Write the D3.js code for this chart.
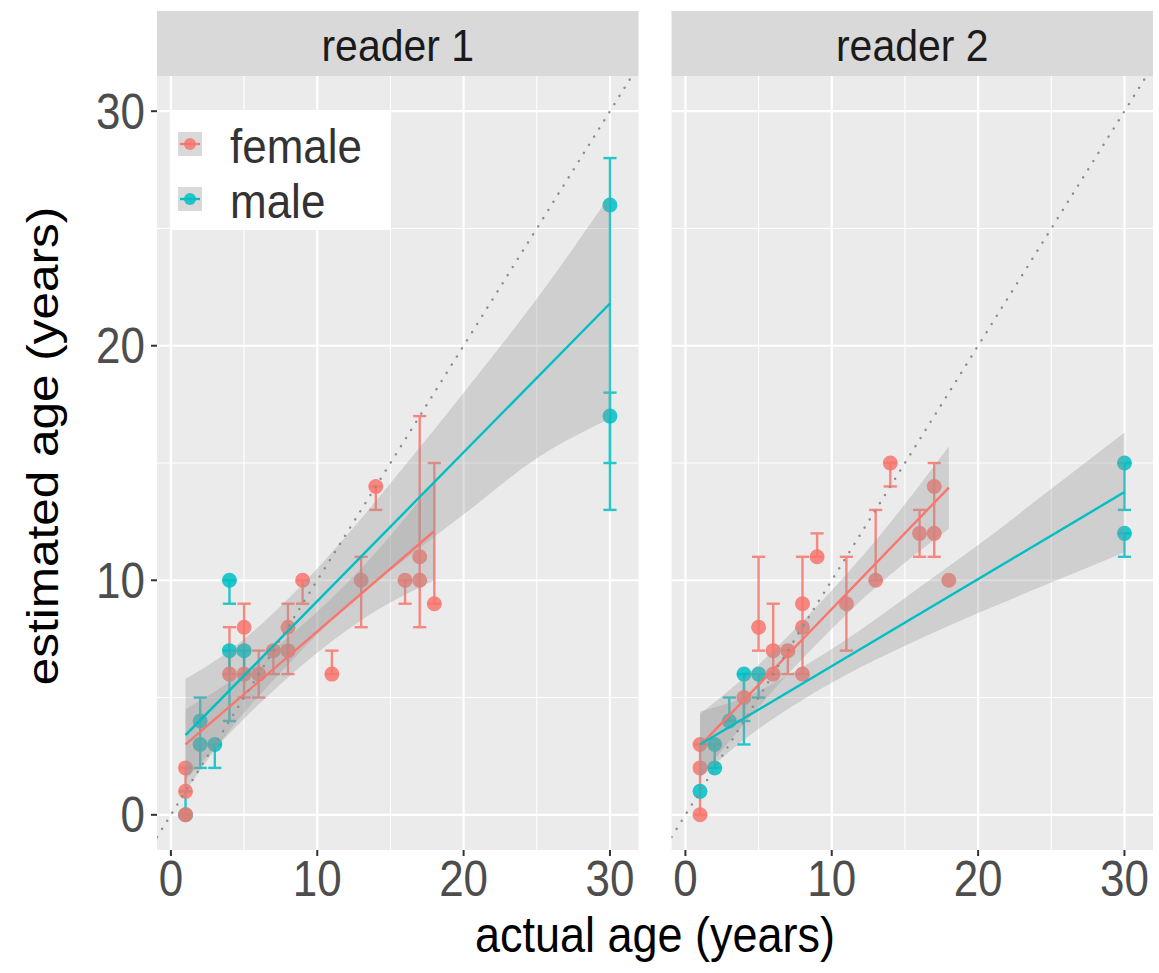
<!DOCTYPE html>
<html><head><meta charset="utf-8">
<script src="https://cdn.jsdelivr.net/npm/d3@7"></script>
<style>html,body{margin:0;padding:0;background:#fff;} svg{display:block;font-family:"Liberation Sans",Arial,Helvetica,sans-serif;}</style>
</head><body>
<svg id="chart" width="1159" height="973"></svg>
<script>
// ---------- data ----------
const panelNames = ["reader 1", "reader 2"];
const sexes = ["female", "male"];
const xTicks = [0, 10, 20, 30];
const yTicks = [0, 10, 20, 30];
const minorTicks = [5, 15, 25];

// points [actual, estimated]
const r1FemalePts = [[1,0],[1,1],[1,2],[4,6],[5,8],[5,6],[6,6],[7,7],[8,8],[8,7],[9,10],[11,6],[13,10],[14,14],[16,10],[17,10],[17,11],[18,9]];
const r1MalePts   = [[1,0],[2,4],[2,3],[3,3],[4,10],[4,7],[5,7],[30,26],[30,17]];
const r2FemalePts = [[1,3],[1,2],[1,0],[4,5],[5,8],[6,7],[6,6],[7,7],[8,9],[8,8],[8,6],[9,11],[11,9],[13,10],[14,15],[16,12],[17,14],[17,12],[18,10]];
const r2MalePts   = [[1,1],[2,3],[2,2],[3,4],[4,6],[5,6],[30,15],[30,12]];

// error bars [actual, low, high]
const r1FemaleBars = [[1,1,2],[4,6,8],[5,5,9],[6,5,7],[7,6,7],[8,6,9],[9,9,10],[11,6,7],[13,8,11],[14,13,14],[16,9,10],[17,8,17],[18,9,15]];
const r1MaleBars   = [[1,0,1],[2,2,5],[3,2,3],[4,9,10],[4,4,7],[5,6,7],[30,15,28],[30,13,18]];
const r2FemaleBars = [[1,0,3],[5,7,11],[6,6,9],[7,6,7],[8,6,11],[9,11,12],[11,7,11],[13,10,13],[14,14,15],[16,11,13],[17,11,15]];
const r2MaleBars   = [[2,2,3],[3,4,5],[4,3,6],[4,4,6],[5,5,6],[30,13,15],[30,11,12]];

// linear fit with confidence band [actual, fit, low, high]
const r1FemaleFit = [[1,3.0,1.5,4.5],[5,5.1,4.1,6.1],[9,7.3,6.4,8.1],[13,9.4,8.3,10.5],[18,12.1,10.0,14.2]];
const r1MaleFit   = [[1,3.4,1.0,5.8],[4,5.3,3.6,7.0],[8,7.8,6.4,9.2],[12,10.4,8.9,11.9],[16,12.9,10.9,14.9],[20,15.4,12.8,18.0],[25,18.6,15.2,22.0],[30,21.8,16.9,26.4]];
const r2FemaleFit = [[1,2.95,1.6,4.3],[5,5.5,4.6,6.4],[9,8.1,7.3,8.9],[13,10.7,9.7,11.7],[18,13.95,12.2,15.7]];
const r2MaleFit   = [[1,3.0,1.6,4.4],[4,4.1,3.2,5.0],[8,5.6,4.9,6.3],[12,7.1,6.3,7.9],[16,8.6,7.5,9.7],[20,10.05,8.6,11.5],[25,11.9,9.9,13.9],[30,13.76,11.2,16.3]];

const colors = {female: "#F8766D", male: "#00BFC4"};

const panelData = [
  {name: panelNames[0], female: {pts: r1FemalePts, bars: r1FemaleBars, fit: r1FemaleFit}, male: {pts: r1MalePts, bars: r1MaleBars, fit: r1MaleFit}},
  {name: panelNames[1], female: {pts: r2FemalePts, bars: r2FemaleBars, fit: r2FemaleFit}, male: {pts: r2MalePts, bars: r2MaleBars, fit: r2MaleFit}}
];

// ---------- layout ----------
const SY = 1.1;   // vertical text stretch of the original image
const SYT = 1.15; // tick labels
const panelsX = [[157, 638.5], [671.5, 1153]];
const pTop = 76, pBottom = 850, stripTop = 11;
const xDomain = [-0.95, 31.95], yDomain = [-1.5, 31.5];
const y = d3.scaleLinear().domain(yDomain).range([pBottom, pTop]);

const svg = d3.select("#chart");

panelData.forEach((pd, i) => {
  const [x0, x1] = panelsX[i];
  const x = d3.scaleLinear().domain(xDomain).range([x0, x1]);
  const g = svg.append("g");
  const clipId = "clip" + i;
  svg.append("clipPath").attr("id", clipId).append("rect")
    .attr("x", x0).attr("y", pTop).attr("width", x1 - x0).attr("height", pBottom - pTop);

  // strip
  g.append("rect").attr("x", x0).attr("y", stripTop).attr("width", x1 - x0).attr("height", pTop - stripTop).attr("fill", "#D9D9D9");
  g.append("text").attr("transform", `translate(${(x0 + x1) / 2},${(stripTop + pTop) / 2 + 2}) scale(1,${SY})`)
    .attr("text-anchor", "middle").attr("dominant-baseline", "central")
    .attr("font-size", 41).attr("fill", "#1A1A1A").text(pd.name);

  // panel bg
  g.append("rect").attr("x", x0).attr("y", pTop).attr("width", x1 - x0).attr("height", pBottom - pTop).attr("fill", "#EBEBEB");
  // grids
  g.selectAll(".vminor").data(minorTicks).join("line")
    .attr("x1", d => x(d)).attr("x2", d => x(d)).attr("y1", pTop).attr("y2", pBottom)
    .attr("stroke", "#fff").attr("stroke-width", 1.1);
  g.selectAll(".hminor").data(minorTicks).join("line")
    .attr("y1", d => y(d)).attr("y2", d => y(d)).attr("x1", x0).attr("x2", x1)
    .attr("stroke", "#fff").attr("stroke-width", 1.1);
  g.selectAll(".vmajor").data(xTicks).join("line")
    .attr("x1", d => x(d)).attr("x2", d => x(d)).attr("y1", pTop).attr("y2", pBottom)
    .attr("stroke", "#fff").attr("stroke-width", 2.2);
  g.selectAll(".hmajor").data(yTicks).join("line")
    .attr("y1", d => y(d)).attr("y2", d => y(d)).attr("x1", x0).attr("x2", x1)
    .attr("stroke", "#fff").attr("stroke-width", 2.2);

  const layer = g.append("g").attr("clip-path", `url(#${clipId})`);

  // error bars
  sexes.forEach(s => {
    const bars = pd[s].bars;
    const bg = layer.append("g").attr("stroke", colors[s]).attr("stroke-width", 2.4).attr("opacity", 0.85).attr("fill", "none");
    bars.forEach(b => {
      bg.append("line").attr("x1", x(b[0])).attr("x2", x(b[0])).attr("y1", y(b[1])).attr("y2", y(b[2]));
      bg.append("line").attr("x1", x(b[0] - 0.45)).attr("x2", x(b[0] + 0.45)).attr("y1", y(b[1])).attr("y2", y(b[1]));
      bg.append("line").attr("x1", x(b[0] - 0.45)).attr("x2", x(b[0] + 0.45)).attr("y1", y(b[2])).attr("y2", y(b[2]));
    });
  });
  // points (male first so female sits on top where they coincide)
  ["male", "female"].forEach(s => {
    layer.append("g").selectAll("circle").data(pd[s].pts).join("circle")
      .attr("cx", d => x(d[0])).attr("cy", d => y(d[1])).attr("r", 7.5)
      .attr("fill", colors[s]).attr("opacity", 0.85);
  });
  // ribbons
  sexes.forEach(s => {
    const area = d3.area().x(d => x(d[0])).y0(d => y(d[2])).y1(d => y(d[3])).curve(d3.curveMonotoneX);
    layer.append("path").datum(pd[s].fit).attr("d", area).attr("fill", "#999999").attr("opacity", 0.33);
  });
  // fit lines
  sexes.forEach(s => {
    const fit = pd[s].fit;
    const ln = d3.line().x(d => x(d[0])).y(d => y(d[1]));
    layer.append("path").datum([fit[0], fit[fit.length - 1]]).attr("d", ln)
      .attr("fill", "none").attr("stroke", colors[s]).attr("stroke-width", 2.4);
  });
  // identity line
  layer.append("line").attr("x1", x(xDomain[0])).attr("y1", y(xDomain[0])).attr("x2", x(xDomain[1])).attr("y2", y(xDomain[1]))
    .attr("stroke", "#8C8C8C").attr("stroke-width", 2.4).attr("stroke-linecap", "round").attr("stroke-dasharray", "0.1,9.5");

  // x axis
  const xa = g.append("g");
  xTicks.forEach(t => {
    xa.append("line").attr("x1", x(t)).attr("x2", x(t)).attr("y1", pBottom).attr("y2", pBottom + 6).attr("stroke", "#333").attr("stroke-width", 2);
    xa.append("text").attr("transform", `translate(${x(t)},${pBottom + 28}) scale(1,${SYT})`)
      .attr("text-anchor", "middle").attr("dominant-baseline", "central")
      .attr("font-size", 44).attr("fill", "#4D4D4D").text(t);
  });
  // y axis only left
  if (i === 0) {
    yTicks.forEach(t => {
      g.append("line").attr("x1", x0 - 6).attr("x2", x0).attr("y1", y(t)).attr("y2", y(t)).attr("stroke", "#333").attr("stroke-width", 2);
      g.append("text").attr("transform", `translate(${x0 - 12},${y(t)}) scale(1,${SYT})`)
        .attr("text-anchor", "end").attr("dominant-baseline", "central")
        .attr("font-size", 44).attr("fill", "#4D4D4D").text(t);
    });
  }
});

// axis titles
svg.append("text").attr("transform", `translate(${(157 + 1153) / 2},${935}) scale(1,${SY})`)
  .attr("text-anchor", "middle").attr("dominant-baseline", "central").attr("font-size", 45).attr("fill", "#000").text("actual age (years)");
svg.append("text").attr("transform", `translate(42,446) rotate(-90) scale(${SY},1)`)
  .attr("text-anchor", "middle").attr("dominant-baseline", "central").attr("font-size", 45).attr("fill", "#000").text("estimated age (years)");

// legend
const lg = svg.append("g");
lg.append("rect").attr("x", 170).attr("y", 112).attr("width", 221).attr("height", 118).attr("fill", "#fff");
sexes.forEach((s, k) => {
  const cy = 144 + k * 55;
  lg.append("rect").attr("x", 178).attr("y", cy - 12).attr("width", 24).attr("height", 24).attr("fill", "#D9D9D9");
  lg.append("line").attr("x1", 180).attr("x2", 200).attr("y1", cy).attr("y2", cy).attr("stroke", colors[s]).attr("stroke-width", 2.4);
  lg.append("circle").attr("cx", 190).attr("cy", cy).attr("r", 6).attr("fill", colors[s]).attr("opacity", 0.85);
  lg.append("text").attr("transform", `translate(230,${cy + 2}) scale(1,${SY})`).attr("dominant-baseline", "central")
    .attr("font-size", 44).attr("fill", "#333").text(s);
});
</script>
</body></html>
